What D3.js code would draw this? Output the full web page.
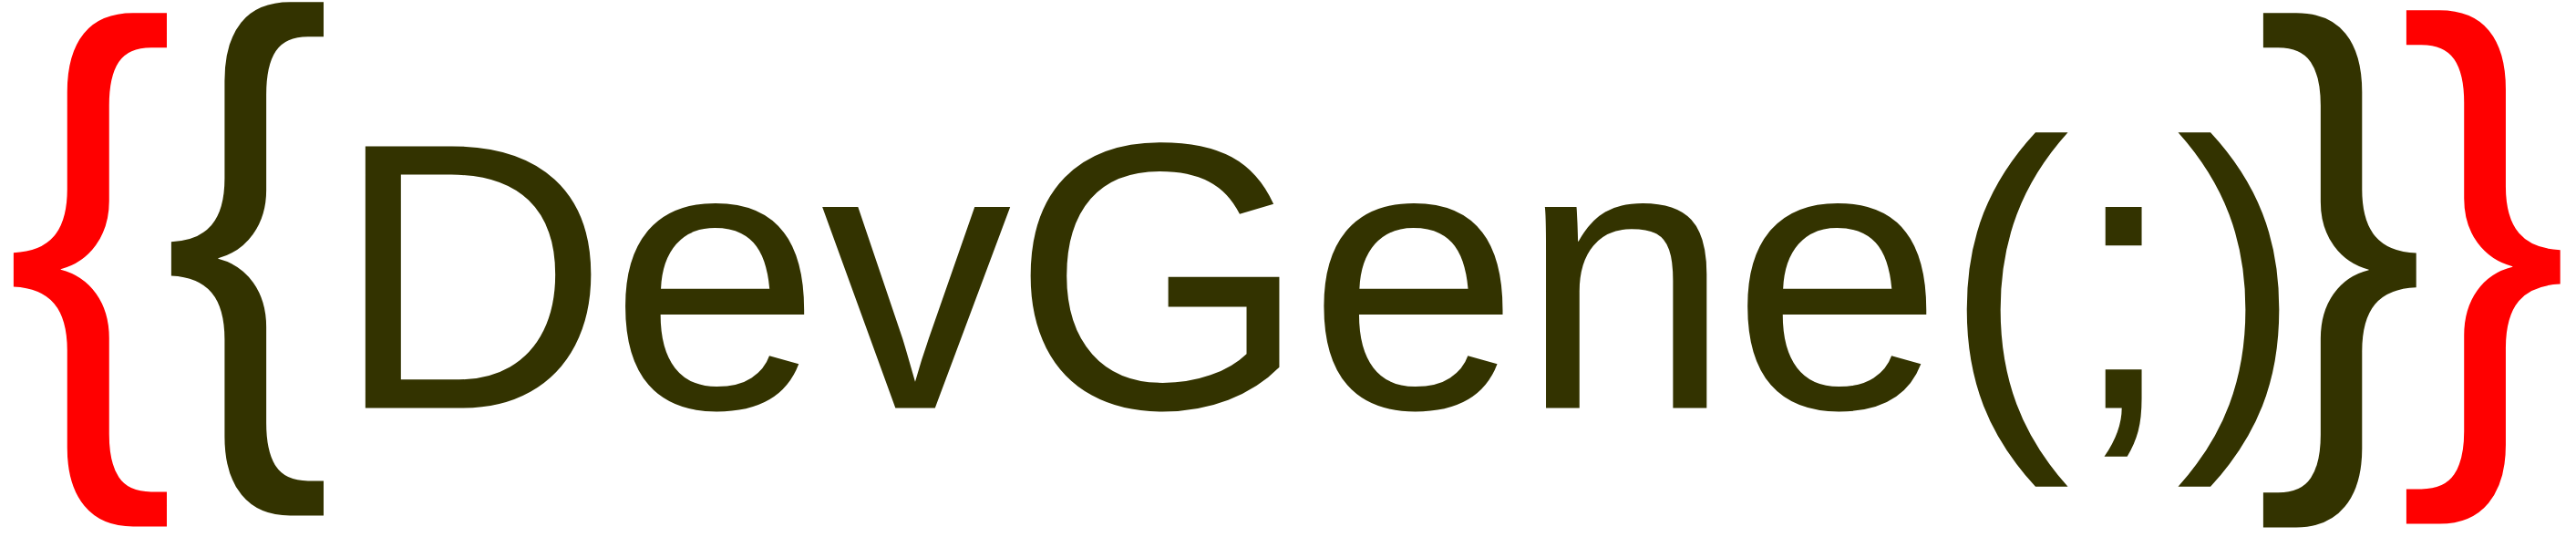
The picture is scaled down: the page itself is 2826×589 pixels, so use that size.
<!DOCTYPE html>
<html><head><meta charset="utf-8">
<script src="https://cdn.jsdelivr.net/npm/d3@7"></script>
<style>html,body{margin:0;padding:0;background:#fff;overflow:hidden}</style>
</head><body>
<svg id="logo"></svg>
<script>
// Logo content
const pieces = ["{", "{", "DevGene(;)", "}", "}"];
const pieceColors = ["#ff0000", "#333300", "#333300", "#333300", "#ff0000"];
const pieceNames = ["outer-open", "inner-open", "word", "inner-close", "outer-close"];

// Layout: ink boxes [x0, y0, x1, y1] that each piece should fill
const W = 2826, H = 589;
const inkBoxes = [
  [14, 14, 185, 579],
  [187, 2, 357, 567],
  [400, 145, 2502, 535],
  [2482, 14, 2653, 580],
  [2639, 11, 2811, 576]
];
const FONT = "'Liberation Sans', Arial, Helvetica, sans-serif";
const BASE = 200;

const svg = d3.select("#logo").attr("width", W).attr("height", H)
  .style("display", "block").style("background", "#ffffff");

function draw() {
  const ctx = document.createElement("canvas").getContext("2d");
  ctx.font = BASE + "px " + FONT;
  ctx.textBaseline = "alphabetic";

  const items = pieces.map((t, i) => {
    const m = ctx.measureText(t);
    const left = -m.actualBoundingBoxLeft, right = m.actualBoundingBoxRight;
    const top = -m.actualBoundingBoxAscent, bottom = m.actualBoundingBoxDescent;
    const [x0, y0, x1, y1] = inkBoxes[i];
    const sx = (x1 - x0) / (right - left);
    const sy = (y1 - y0) / (bottom - top);
    return {
      text: t, color: pieceColors[i], name: pieceNames[i],
      tx: x0 - left * sx, ty: y0 - top * sy, sx, sy
    };
  });

  svg.selectAll("text.piece")
    .data(items)
    .join("text")
    .attr("class", d => "piece " + d.name)
    .attr("x", 0)
    .attr("y", 0)
    .attr("transform", d => `translate(${d.tx},${d.ty}) scale(${d.sx},${d.sy})`)
    .attr("font-family", FONT)
    .attr("font-size", BASE)
    .attr("fill", d => d.color)
    .text(d => d.text);
}

if (document.fonts && document.fonts.load) {
  document.fonts.load(BASE + "px 'Liberation Sans'").then(draw, draw);
} else {
  draw();
}
</script>
</body></html>
